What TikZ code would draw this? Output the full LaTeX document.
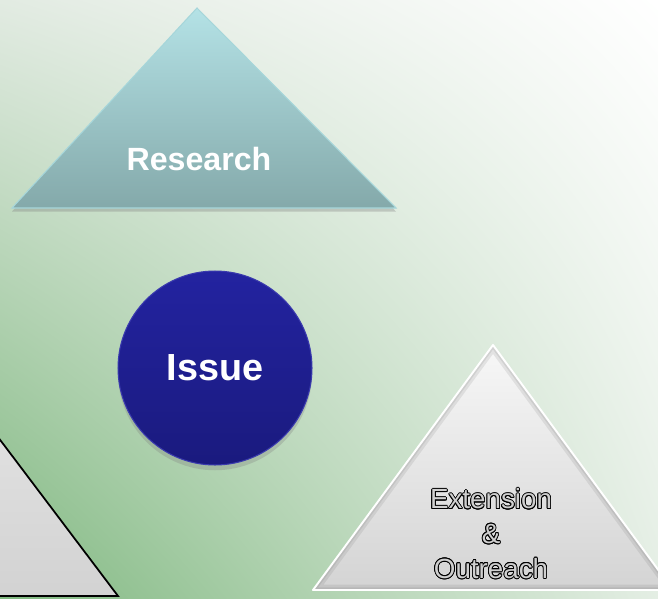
\documentclass[tikz,border=0pt]{standalone}
\usepackage{fontspec}
\setmainfont{Liberation Sans}
\usepackage{xcolor}
\usepackage{contour}
\usetikzlibrary{shadows,shadings}
\definecolor{bgtl}{HTML}{E2EBE2}
\definecolor{bgbl}{HTML}{80B880}
\definecolor{bgbr}{HTML}{E4EEE4}
\definecolor{restop}{HTML}{B4E2E6}
\definecolor{resbot}{HTML}{84A9AA}
\definecolor{resedge}{HTML}{A6D6DA}
\definecolor{issuetop}{HTML}{2323A0}
\definecolor{issuebot}{HTML}{1A1A7E}
\definecolor{issueedge}{HTML}{3A3AAE}
\definecolor{exttext}{HTML}{CFCFCF}
\contourlength{0.45pt}

\begin{document}
\begin{tikzpicture}[x=0.02cm,y=-0.02cm,
  every node/.style={text=white,font=\bfseries},
  research/.style={top color=restop,bottom color=resbot,draw=resedge,line width=0.6pt,
    drop shadow={opacity=0.35,shadow xshift=0pt,shadow yshift=-2pt}},
  greybox/.style={top color=gray!8,bottom color=gray!45}]
   \useasboundingbox (0,0) rectangle (658,598);
   \clip (0,0) rectangle (658,598);
   % background
   \shade[upper left=bgtl,upper right=white,lower left=bgbl,lower right=bgbr] (0,0) rectangle (658,598);
   % research triangle
   \coordinate (rtop) at (197,8);
   \coordinate (rleft) at (12,208);
   \coordinate (rright) at (396,208);
   \shade[research] (rtop) -- (rleft) -- (rright) -- cycle;
   \node[font=\bfseries\fontsize{18.3}{20}\selectfont] (research) at (199,159) {Research};
   % issue
   \node[circle,minimum size=3.88cm,inner sep=0pt,top color=issuetop,bottom color=issuebot,
     draw=issueedge,line width=0.6pt,drop shadow={opacity=0.3,shadow xshift=0pt,shadow yshift=-3pt},
     font=\bfseries\fontsize{21.5}{24}\selectfont] (issue) at (215,368) {Issue};
   % extension & outreach
   \coordinate (etop) at (493,345);
   \coordinate (eleft) at (313,590);
   \coordinate (eright) at (673,590);
   \shade[greybox,top color=gray!6,bottom color=gray!34] (etop) -- (eleft) -- (eright) -- cycle;
   \begin{scope}
     \clip (etop) -- (eleft) -- (eright) -- cycle;
     \draw[gray!70!black,line width=6pt,opacity=0.12] (etop) -- (eleft) -- (eright) -- cycle;
     \draw[gray!70!black,line width=3pt,opacity=0.12] (etop) -- (eleft) -- (eright) -- cycle;
   \end{scope}
   \draw[white,line width=1.1pt,line join=round] (etop) -- (eleft) -- (eright) -- cycle;
   \node[align=center,text=exttext,font=\fontsize{15.8}{19.8}\selectfont] (ext) at (491,534)
     {\contour{black}{Extension}\\\contour{black}{\&}\\\contour{black}{Outreach}};
   % left triangle (cut off)
   \coordinate (ltop) at (-30,400);
   \coordinate (lright) at (118,596);
   \coordinate (lleft) at (-30,596);
   \shade[greybox,top color=gray!22,bottom color=gray!35,draw=black,line width=1pt] (ltop) -- (lright) -- (lleft) -- cycle;
\end{tikzpicture}
\end{document}
